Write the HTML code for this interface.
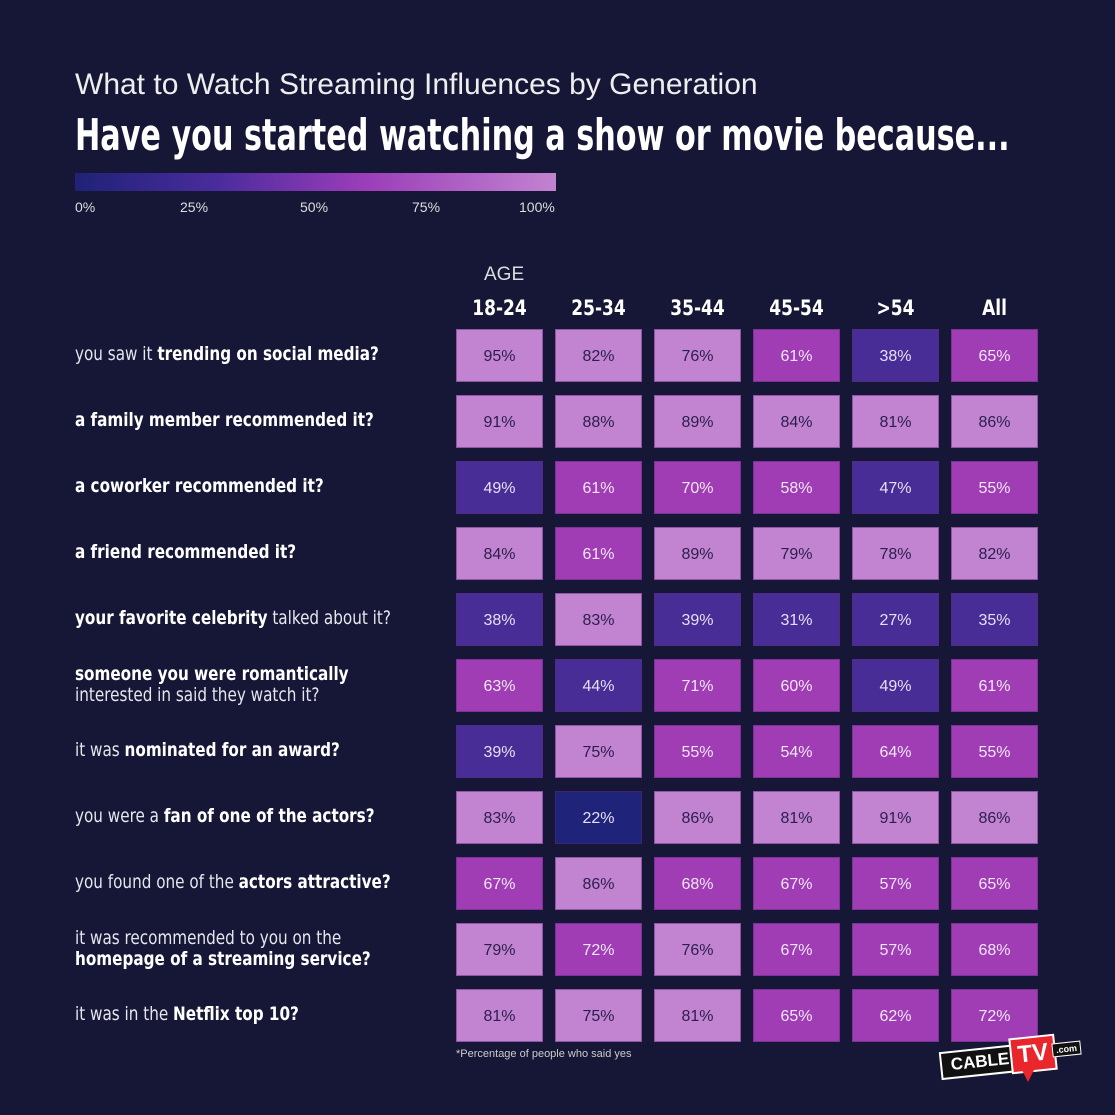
<!DOCTYPE html>
<html><head><meta charset="utf-8"><style>
body{margin:0;width:1115px;height:1115px;background:#161636;overflow:hidden;position:relative;font-family:"DejaVu Sans Condensed","Liberation Sans",sans-serif;color:#fff}
.a{position:absolute;white-space:nowrap}
.sub{left:75px;top:68px;font-size:30px;font-family:"Liberation Sans",sans-serif;color:#eee}
.ttl{left:75px;top:110px;font-size:44px;font-weight:bold;transform:scaleX(.764);transform-origin:left}
.bar{left:75px;top:173px;width:481px;height:18px;background:linear-gradient(90deg,#1f2277,#4b2c9d 30%,#9b3db9 60%,#c283d0)}
.tk{top:199px;font-size:14px;color:#ddd;font-family:"Liberation Sans",sans-serif}
.hd{top:296px;font-size:21px;font-weight:bold;width:87px;text-align:center;transform:scaleX(.9)}
.c{position:absolute;width:87px;height:53px;line-height:53px;text-align:center;font-size:16px;color:#2a1f4d;font-family:"Liberation Sans",sans-serif;box-sizing:border-box;border:1px solid rgba(90,40,120,.5)}
.L{background:#c283d0}.M{background:#a03db5;color:#f0e6f6}.D{background:#482d96;color:#e6e0f4}.X{background:#1f237a;color:#e6e0f4}
.lb{left:75px;font-size:19px;color:#e6e6ee;line-height:21px;transform:scaleX(.89);transform-origin:left}
.lb b{color:#fff}
</style></head><body>
<div class="a sub">What to Watch Streaming Influences by Generation</div>
<div class="a ttl">Have you started watching a show or movie because...</div>
<div class="a bar"></div>
<div class="a tk" style="left:75px">0%</div>
<div class="a tk" style="left:180px">25%</div>
<div class="a tk" style="left:300px">50%</div>
<div class="a tk" style="left:412px">75%</div>
<div class="a tk" style="left:519px">100%</div>
<div class="a" style="left:484px;top:264px;font-size:19px;color:#ddd;font-family:'Liberation Sans',sans-serif">AGE</div>
<div class="a hd" style="left:456px">18-24</div>
<div class="a hd" style="left:555px">25-34</div>
<div class="a hd" style="left:654px">35-44</div>
<div class="a hd" style="left:753px">45-54</div>
<div class="a hd" style="left:852px">&gt;54</div>
<div class="a hd" style="left:951px">All</div>

<div class="a lb" style="top:344px">you saw it <b>trending on social media?</b></div>
<div class="a lb" style="top:410px"><b>a family member recommended it?</b></div>
<div class="a lb" style="top:476px"><b>a coworker recommended it?</b></div>
<div class="a lb" style="top:542px"><b>a friend recommended it?</b></div>
<div class="a lb" style="top:608px"><b>your favorite celebrity</b> talked about it?</div>
<div class="a lb" style="top:664px"><b>someone you were romantically</b><br>interested in said they watch it?</div>
<div class="a lb" style="top:740px">it was <b>nominated for an award?</b></div>
<div class="a lb" style="top:806px">you were a <b>fan of one of the actors?</b></div>
<div class="a lb" style="top:872px">you found one of the <b>actors attractive?</b></div>
<div class="a lb" style="top:928px">it was recommended to you on the<br><b>homepage of a streaming service?</b></div>
<div class="a lb" style="top:1004px">it was in the <b>Netflix top 10?</b></div>

<div class="c L" style="left:456px;top:329px">95%</div><div class="c L" style="left:555px;top:329px">82%</div><div class="c L" style="left:654px;top:329px">76%</div><div class="c M" style="left:753px;top:329px">61%</div><div class="c D" style="left:852px;top:329px">38%</div><div class="c M" style="left:951px;top:329px">65%</div>
<div class="c L" style="left:456px;top:395px">91%</div><div class="c L" style="left:555px;top:395px">88%</div><div class="c L" style="left:654px;top:395px">89%</div><div class="c L" style="left:753px;top:395px">84%</div><div class="c L" style="left:852px;top:395px">81%</div><div class="c L" style="left:951px;top:395px">86%</div>
<div class="c D" style="left:456px;top:461px">49%</div><div class="c M" style="left:555px;top:461px">61%</div><div class="c M" style="left:654px;top:461px">70%</div><div class="c M" style="left:753px;top:461px">58%</div><div class="c D" style="left:852px;top:461px">47%</div><div class="c M" style="left:951px;top:461px">55%</div>
<div class="c L" style="left:456px;top:527px">84%</div><div class="c M" style="left:555px;top:527px">61%</div><div class="c L" style="left:654px;top:527px">89%</div><div class="c L" style="left:753px;top:527px">79%</div><div class="c L" style="left:852px;top:527px">78%</div><div class="c L" style="left:951px;top:527px">82%</div>
<div class="c D" style="left:456px;top:593px">38%</div><div class="c L" style="left:555px;top:593px">83%</div><div class="c D" style="left:654px;top:593px">39%</div><div class="c D" style="left:753px;top:593px">31%</div><div class="c D" style="left:852px;top:593px">27%</div><div class="c D" style="left:951px;top:593px">35%</div>
<div class="c M" style="left:456px;top:659px">63%</div><div class="c D" style="left:555px;top:659px">44%</div><div class="c M" style="left:654px;top:659px">71%</div><div class="c M" style="left:753px;top:659px">60%</div><div class="c D" style="left:852px;top:659px">49%</div><div class="c M" style="left:951px;top:659px">61%</div>
<div class="c D" style="left:456px;top:725px">39%</div><div class="c L" style="left:555px;top:725px">75%</div><div class="c M" style="left:654px;top:725px">55%</div><div class="c M" style="left:753px;top:725px">54%</div><div class="c M" style="left:852px;top:725px">64%</div><div class="c M" style="left:951px;top:725px">55%</div>
<div class="c L" style="left:456px;top:791px">83%</div><div class="c X" style="left:555px;top:791px">22%</div><div class="c L" style="left:654px;top:791px">86%</div><div class="c L" style="left:753px;top:791px">81%</div><div class="c L" style="left:852px;top:791px">91%</div><div class="c L" style="left:951px;top:791px">86%</div>
<div class="c M" style="left:456px;top:857px">67%</div><div class="c L" style="left:555px;top:857px">86%</div><div class="c M" style="left:654px;top:857px">68%</div><div class="c M" style="left:753px;top:857px">67%</div><div class="c M" style="left:852px;top:857px">57%</div><div class="c M" style="left:951px;top:857px">65%</div>
<div class="c L" style="left:456px;top:923px">79%</div><div class="c M" style="left:555px;top:923px">72%</div><div class="c L" style="left:654px;top:923px">76%</div><div class="c M" style="left:753px;top:923px">67%</div><div class="c M" style="left:852px;top:923px">57%</div><div class="c M" style="left:951px;top:923px">68%</div>
<div class="c L" style="left:456px;top:989px">81%</div><div class="c L" style="left:555px;top:989px">75%</div><div class="c L" style="left:654px;top:989px">81%</div><div class="c M" style="left:753px;top:989px">65%</div><div class="c M" style="left:852px;top:989px">62%</div><div class="c M" style="left:951px;top:989px">72%</div>

<div class="a" style="left:456px;top:1048px;font-size:11px;color:#ccc;font-family:'Liberation Sans',sans-serif">*Percentage of people who said yes</div>

<div class="a" style="left:940px;top:1048px;width:76px;height:24px;background:#111;border:2px solid #fff;transform:rotate(-6deg);font:bold 17px 'Liberation Sans',sans-serif;line-height:24px;text-align:center;color:#fff">CABLE</div>
<div class="a" style="left:1010px;top:1036px;width:42px;height:32px;background:#e8262b;border:2px solid #fff;transform:rotate(-6deg);font:bold 24px 'Liberation Sans',sans-serif;line-height:32px;text-align:center;color:#fff">TV</div>
<div class="a" style="left:1022px;top:1070px;width:0;height:0;border-left:6px solid transparent;border-right:6px solid transparent;border-top:12px solid #e8262b"></div>
<div class="a" style="left:1052px;top:1042px;background:#111;color:#fff;font:bold 9px 'Liberation Sans',sans-serif;padding:1px 3px;border:1px solid #fff;transform:rotate(-6deg)">.com</div>
</body></html>
